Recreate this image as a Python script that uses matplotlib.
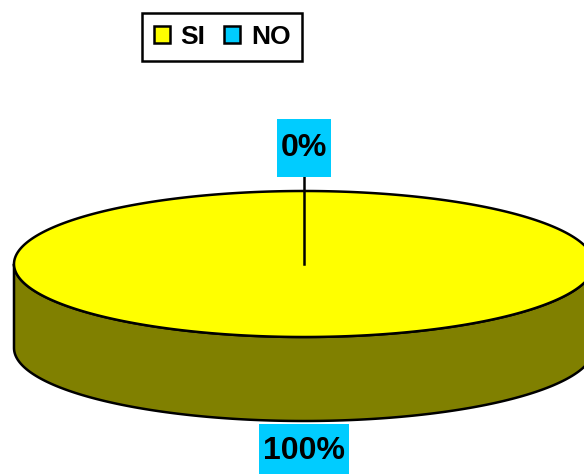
import numpy as np
import matplotlib.pyplot as plt
import matplotlib.patches as mpatches

plt.rcParams['font.family'] = ['Liberation Sans', 'DejaVu Sans']

labels = ["SI", "NO"]
values = [100, 0]
top_colors = ["#FFFF00", "#00CCFF"]
side_colors = ["#808000", "#006680"]
label_offsets = [30, 43]   # distance of the % label centre from the pie rim, px

W, H = 584, 474
cx, cy, rx, ry, depth = 304, 264, 290, 73, 84
box_h = 58


def ell(theta, dy=0.0):
    t = np.radians(theta)
    return np.column_stack([cx + rx * np.cos(t), cy - ry * np.sin(t) + dy])


fig = plt.figure(figsize=(W / 100, H / 100), dpi=100)
ax = fig.add_axes([0, 0, 1, 1])
ax.set_xlim(0, W)
ax.set_ylim(H, 0)
ax.axis("off")

total = float(sum(values))
start = 90.0
cum = 0.0
slices = []
for lab, v, ct, cs, off in zip(labels, values, top_colors, side_colors, label_offsets):
    frac = v / total
    hi = start - cum * 360
    lo = start - (cum + frac) * 360
    mid = (hi + lo) / 2
    slices.append((lab, v, frac, lo, hi, mid, ct, cs, off))
    cum += frac

# sides first (front part only), then top faces
for lab, v, frac, lo, hi, mid, ct, cs, off in slices:
    if frac == 0:
        continue
    a, b = max(lo, -180), min(hi, 0)
    if b > a:
        th = np.linspace(a, b, 200)
        pts = np.vstack([ell(th), ell(th[::-1], depth)])
        ax.add_patch(mpatches.Polygon(pts, closed=True, facecolor=cs,
                                      edgecolor="black", lw=1.8, joinstyle="round"))

for lab, v, frac, lo, hi, mid, ct, cs, off in slices:
    if frac == 0:
        continue
    th = np.linspace(lo, hi, 400)
    if frac >= 1:
        pts = ell(th)
    else:
        pts = np.vstack([[cx, cy], ell(th)])
    ax.add_patch(mpatches.Polygon(pts, closed=True, facecolor=ct,
                                  edgecolor="black", lw=1.8, joinstyle="round"))

# percentage labels
fig.canvas.draw()
renderer = fig.canvas.get_renderer()
for lab, v, frac, lo, hi, mid, ct, cs, off in slices:
    t = np.radians(mid)
    s = np.sin(t)
    lx = cx + (rx + off) * np.cos(t)
    ly = cy - (ry + off) * s + (depth if s < -0.01 else 0)
    txt = ax.text(lx, ly, f"{v / total * 100:.0f}%", ha="center", va="center",
                  fontsize=23, fontweight="bold", zorder=5)
    ext = txt.get_window_extent(renderer)
    bw = ext.width + 8
    by = ly - box_h / 2 + (2 if s < -0.01 else 0)
    ax.add_patch(mpatches.Rectangle((lx - bw / 2, by), bw, box_h,
                                    facecolor="#00CCFF", edgecolor="none", zorder=4))
    if frac == 0:
        ax.plot([cx, cx], [cy, ly + box_h / 2], color="black", lw=1.8, zorder=3)

handles = [mpatches.Patch(facecolor=c, edgecolor="black", lw=1.8) for c in top_colors]
leg = fig.legend(handles, labels, loc="upper center", bbox_to_anchor=(222 / W, 1 - 13 / H),
                 ncol=2, frameon=True, fancybox=False, framealpha=1,
                 prop={"weight": "bold", "size": 19},
                 handlelength=0.62, handleheight=0.62, handletextpad=0.4,
                 columnspacing=0.7, borderpad=0.45, borderaxespad=0)
leg.get_frame().set_edgecolor("black")
leg.get_frame().set_linewidth(1.8)

fig.savefig("out.png", dpi=100)
